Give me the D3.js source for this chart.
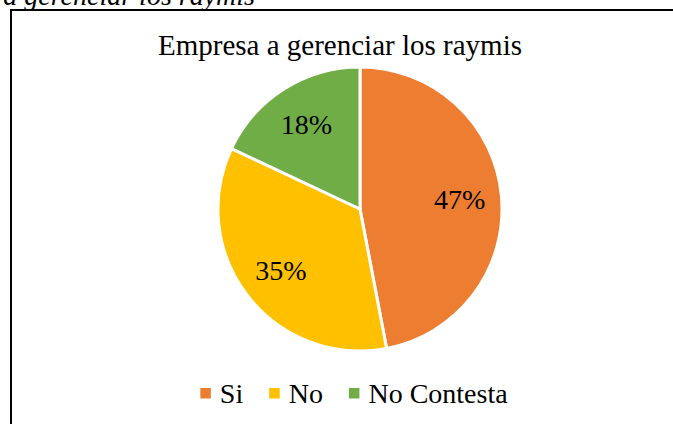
<!DOCTYPE html>
<html>
<head>
<meta charset="utf-8">
<script src="https://cdn.jsdelivr.net/npm/d3@7"></script>
<style>
  html, body { margin: 0; padding: 0; background: #fff; }
  svg { display: block; font-family: "Liberation Serif", "Times New Roman", serif; }
</style>
</head>
<body>
<div id="chart"></div>
<script>
// datos del grafico
const categorias = ["Si", "No", "No Contesta"];
const porcentajes = [47, 35, 18];
const colores = ["#ED7D31", "#FFC000", "#70AD47"];
const titulo = "Empresa a gerenciar los raymis";

const width = 673, height = 424;

const svg = d3.select("#chart").append("svg")
    .attr("width", width)
    .attr("height", height);

// texto del pie de figura (cortado arriba)
svg.append("text")
    .attr("x", 255)
    .attr("y", 5)
    .attr("text-anchor", "end")
    .style("font-style", "italic")
    .style("font-size", "28px")
    .text(titulo);

// marco del grafico
svg.append("path")
    .attr("d", "M11," + (height + 5) + " L11,10 L" + (width + 5) + ",10")
    .style("fill", "none")
    .style("stroke", "#000")
    .style("stroke-width", 2);

// titulo
svg.append("text")
    .attr("x", 340)
    .attr("y", 55)
    .attr("text-anchor", "middle")
    .style("font-size", "29px")
    .text(titulo);

const color = d3.scaleOrdinal().domain(categorias).range(colores);

const cx = 360, cy = 209, radius = 142;

const pie = d3.pie().sort(null).value(d => d.valor);
const datos = categorias.map((c, i) => ({cat: c, valor: porcentajes[i]}));
const arcs = pie(datos);

const arc = d3.arc().innerRadius(0).outerRadius(radius);
const labelArc = d3.arc().innerRadius(100).outerRadius(100);

const g = svg.append("g")
    .attr("transform", "translate(" + cx + "," + cy + ")");

g.selectAll("path")
    .data(arcs)
  .enter().append("path")
    .attr("d", arc)
    .style("fill", d => color(d.data.cat))
    .style("stroke", "#fff")
    .style("stroke-width", 3);

g.selectAll("text")
    .data(arcs)
  .enter().append("text")
    .attr("transform", d => "translate(" + labelArc.centroid(d) + ")")
    .attr("text-anchor", "middle")
    .attr("dy", "0.33em")
    .style("font-size", "28px")
    .text(d => d.data.valor + "%");

// leyenda
const legend = svg.append("g");
let x = 0;
categorias.forEach((c, i) => {
  const item = legend.append("g").attr("transform", "translate(" + x + ",0)");
  item.append("rect")
      .attr("x", 0)
      .attr("y", -15)
      .attr("width", 10.5)
      .attr("height", 10.5)
      .style("fill", color(c));
  const t = item.append("text")
      .attr("x", 19.5)
      .attr("y", 0)
      .style("font-size", "28px")
      .text(c);
  x += 19.5 + t.node().getComputedTextLength() + 26;
});
const legendWidth = x - 26;
legend.attr("transform", "translate(" + (354 - legendWidth / 2) + ",403)");
</script>
</body>
</html>
